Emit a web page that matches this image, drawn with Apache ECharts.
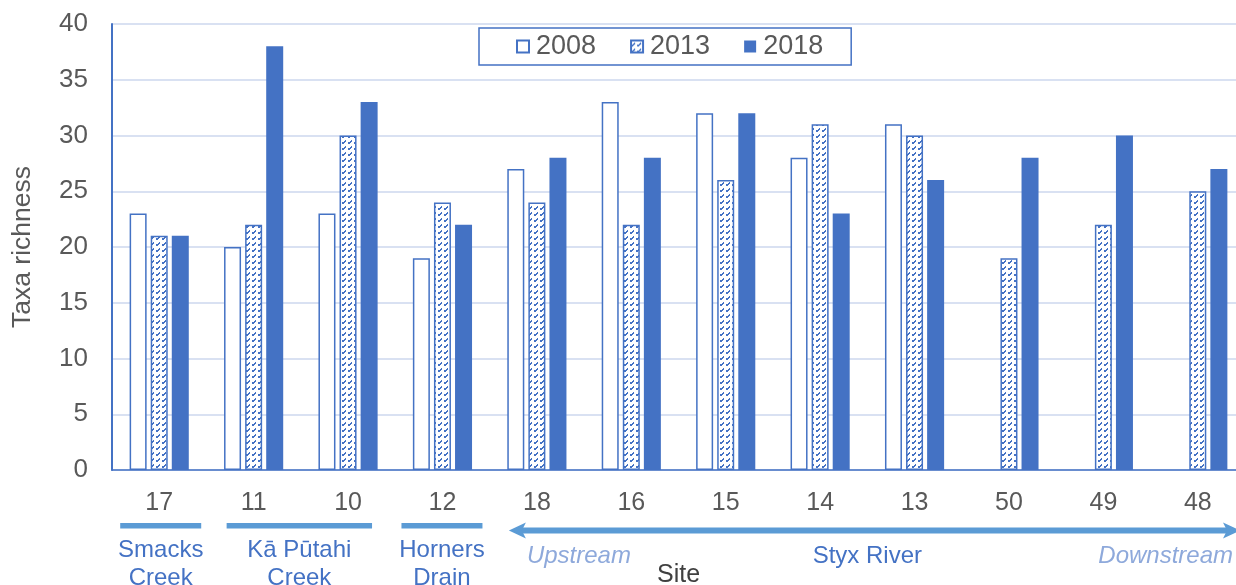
<!DOCTYPE html>
<html>
<head>
<meta charset="utf-8">
<script src="https://cdn.jsdelivr.net/npm/echarts@6/dist/echarts.min.js"></script>
<style>
  html, body { margin: 0; padding: 0; background: #ffffff; }
  #chart { width: 1236px; height: 585px; }
</style>
</head>
<body>
<div id="chart"></div>
<script>
// Sites ordered by stream, with taxa richness per survey year
const sites = ['17', '11', '10', '12', '18', '16', '15', '14', '13', '50', '49', '48'];
const years = ['2008', '2013', '2018'];
const richness2008 = [23, 20, 23, 19, 27, 33, 32, 28, 31, null, null, null];
const richness2013 = [21, 22, 30, 24, 24, 22, 26, 31, 30, 19, 22, 25];
const richness2018 = [21, 38, 33, 22, 28, 28, 32, 23, 26, 28, 30, 27];
const yTicks = [0, 5, 10, 15, 20, 25, 30, 35, 40];

// Stream groupings shown under the site labels
const streamGroups = [
  { name: 'Smacks\nCreek', from: '17', to: '17' },
  { name: 'Kā Pūtahi\nCreek', from: '11', to: '10' },
  { name: 'Horners\nDrain', from: '12', to: '12' }
];
const riverName = 'Styx River';
const riverFrom = '18';
const upLabel = 'Upstream';
const downLabel = 'Downstream';

const BLUE = '#4472C4';
const LINE_BLUE = '#5B9BD5';
const GREY = '#595959';
const FONT = '"Liberation Sans", Arial, sans-serif';

// Diagonal dashed hatch for the 2013 bars
function makeHatch() {
  const n = 6;
  const c = document.createElement('canvas');
  c.width = n; c.height = n;
  const g = c.getContext('2d');
  g.fillStyle = '#ffffff';
  g.fillRect(0, 0, n, n);
  g.fillStyle = BLUE;
  [[0, 5], [1, 4], [2, 3], [3, 2], [1, 5], [2, 4], [3, 3], [0, 4]].forEach(p => g.fillRect(p[0], p[1], 1, 1));
  return c;
}
const hatch = { image: makeHatch(), repeat: 'repeat' };

const chart = echarts.init(document.getElementById('chart'), null, { renderer: 'canvas' });

const barCommon = {
  type: 'bar',
  barWidth: 17,
  barGap: '24%'
};

chart.setOption({
  animation: false,
  textStyle: { fontFamily: FONT },
  grid: { left: 112, top: 24, width: 1133, height: 446, containLabel: false, outerBoundsMode: 'none' },
  legend: {
    data: years,
    left: 479,
    top: 28,
    padding: [5, 28, 5, 37],
    itemGap: 34,
    itemWidth: 12,
    itemHeight: 12,
    borderColor: BLUE,
    borderWidth: 1.5,
    borderRadius: 0,
    backgroundColor: '#ffffff',
    icon: 'rect',
    textStyle: { fontSize: 27, color: GREY, fontFamily: FONT, padding: [0, 0, 0, 2] }
  },
  xAxis: {
    type: 'category',
    data: sites,
    name: 'Site',
    nameLocation: 'middle',
    nameGap: 93,
    nameTextStyle: { fontSize: 25, color: '#404040', fontFamily: FONT },
    axisLine: { lineStyle: { color: BLUE, width: 1.5 } },
    axisTick: { show: false },
    axisLabel: { fontSize: 25, color: GREY, margin: 21, fontFamily: FONT }
  },
  yAxis: {
    type: 'value',
    min: yTicks[0],
    max: yTicks[yTicks.length - 1],
    interval: 5,
    name: 'Taxa richness',
    nameLocation: 'middle',
    nameGap: 76,
    nameTextStyle: { fontSize: 26.5, color: GREY, fontFamily: FONT },
    axisLine: { show: true, lineStyle: { color: BLUE, width: 2 } },
    axisTick: { show: false },
    axisLabel: { fontSize: 26, color: GREY, margin: 24, fontFamily: FONT },
    splitLine: { lineStyle: { color: '#D9E1F2', width: 2 } }
  },
  series: [
    Object.assign({}, barCommon, {
      name: years[0],
      data: richness2008,
      itemStyle: { color: '#ffffff', borderColor: BLUE, borderWidth: 1.5 }
    }),
    Object.assign({}, barCommon, {
      name: years[1],
      data: richness2013,
      itemStyle: { color: hatch, borderColor: BLUE, borderWidth: 1.5 }
    }),
    Object.assign({}, barCommon, {
      name: years[2],
      data: richness2018,
      itemStyle: { color: BLUE }
    })
  ]
});

// Group brackets and river arrow, positioned from category centres
function cx(site) {
  return chart.convertToPixel({ xAxisIndex: 0 }, site);
}
const BAR_Y = 526;
const TEXT_Y = 550;
const graphics = [];
const insets = [[39, 42], [27, 24], [41, 40]];
streamGroups.forEach((g, i) => {
  const x1 = cx(g.from) - insets[i][0];
  const x2 = cx(g.to) + insets[i][1];
  graphics.push({
    type: 'rect',
    shape: { x: x1, y: BAR_Y - 3, width: x2 - x1, height: 5.5 },
    style: { fill: LINE_BLUE },
    silent: true
  });
  graphics.push({
    type: 'text',
    x: (x1 + x2) / 2,
    y: TEXT_Y - 14,
    style: {
      text: g.name,
      fill: BLUE,
      font: '24px ' + FONT,
      align: 'center',
      verticalAlign: 'top',
      lineHeight: 28
    },
    silent: true
  });
});

// River arrow, double headed
const ax1 = cx(riverFrom) - 28;
const ax2 = 1240;
const ay = 530.5;
graphics.push({
  type: 'rect',
  shape: { x: ax1 + 10, y: ay - 3, width: ax2 - ax1 - 20, height: 6 },
  style: { fill: LINE_BLUE },
  silent: true
});
graphics.push({
  type: 'polygon',
  shape: { points: [[ax1, ay], [ax1 + 17, ay - 8], [ax1 + 13, ay], [ax1 + 17, ay + 8]] },
  style: { fill: LINE_BLUE },
  silent: true
});
graphics.push({
  type: 'polygon',
  shape: { points: [[ax2, ay], [ax2 - 17, ay - 8], [ax2 - 13, ay], [ax2 - 17, ay + 8]] },
  style: { fill: LINE_BLUE },
  silent: true
});
graphics.push({
  type: 'text', x: ax1 + 18, y: 556,
  style: { text: upLabel, fill: '#8EA9DB', font: 'italic 24px ' + FONT, align: 'left', verticalAlign: 'middle' },
  silent: true
});
graphics.push({
  type: 'text', x: (cx('14') + cx('13')) / 2, y: 556,
  style: { text: riverName, fill: BLUE, font: '24px ' + FONT, align: 'center', verticalAlign: 'middle' },
  silent: true
});
graphics.push({
  type: 'text', x: 1233, y: 556,
  style: { text: downLabel, fill: '#8EA9DB', font: 'italic 24px ' + FONT, align: 'right', verticalAlign: 'middle' },
  silent: true
});

chart.setOption({ graphic: graphics });
</script>
</body>
</html>
